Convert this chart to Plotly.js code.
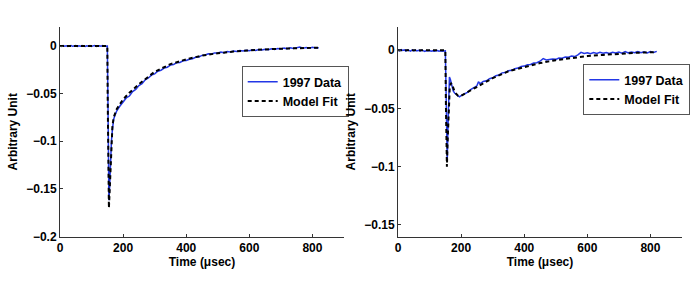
<!DOCTYPE html>
<html>
<head>
<meta charset="utf-8">
<script src="https://cdn.plot.ly/plotly-3.0.1.min.js"></script>
<style>html,body{margin:0;padding:0;background:#fff;}#plot{width:694px;height:286px;}</style>
</head>
<body>
<div id="plot"></div>
<script>
// Left panel: measured data
const leftDataT = [0,5,10,15,20,25,30,35,40,45,50,55,60,65,70,75,80,85,90,95,100,105,110,115,120,125,130,135,140,145,150,152,154,155,157,160,163,166,170,175,180,190,200,210,220,230,240,250,260,270,280,290,300,310,320,330,340,350,360,370,380,390,400,410,420,430,440,450,460,470,480,490,500,510,520,530,540,550,560,570,580,590,600,610,620,630,640,650,660,670,680,690,700,710,720,730,740,750,760,770,780,790,800,810,820];
const leftDataY = [0.0004,-0.0003,0.0005,-0.0001,0.0003,-0.0004,0.0002,0.0006,-0.0003,0.0001,0.0004,-0.0005,0.0002,-0.0002,0.0005,0.0,-0.0004,0.0003,-0.0001,0.0004,-0.0003,0.0002,0.0005,-0.0004,0.0001,0.0003,-0.0002,0.0004,-0.0001,0.0002,0.0,-0.06,-0.14,-0.162,-0.15,-0.12,-0.1,-0.088,-0.077,-0.072,-0.068,-0.063,-0.059,-0.0545,-0.0525,-0.0478,-0.0455,-0.0415,-0.0395,-0.0355,-0.0335,-0.0305,-0.0292,-0.0265,-0.0254,-0.0232,-0.0222,-0.0200,-0.0193,-0.0175,-0.0172,-0.0155,-0.0152,-0.0138,-0.0133,-0.0118,-0.0114,-0.0098,-0.0094,-0.0082,-0.0084,-0.0072,-0.0074,-0.0064,-0.0069,-0.0058,-0.0063,-0.0052,-0.0058,-0.0047,-0.0053,-0.0044,-0.0049,-0.0040,-0.0046,-0.0036,-0.0042,-0.0033,-0.0038,-0.0029,-0.0035,-0.0027,-0.0031,-0.0022,-0.0028,-0.0019,-0.0025,-0.0014,-0.0010,-0.0022,-0.0015,-0.0024,-0.0014,-0.0021,-0.0018];
// Left panel: model fit
const leftModelT = [0,150,151,153,155,157,160,163,166,170,180,200,220,250,280,300,350,400,450,500,550,600,650,700,750,800,820];
const leftModelY = [0,0,-0.05,-0.13,-0.17,-0.155,-0.125,-0.1,-0.085,-0.075,-0.066,-0.056,-0.049,-0.04,-0.032,-0.027,-0.019,-0.014,-0.01,-0.0075,-0.0058,-0.0045,-0.0035,-0.0028,-0.0022,-0.0018,-0.0017];
// Right panel: measured data
const rightDataT = [0,5,10,15,20,25,30,35,40,45,50,55,60,65,70,75,80,85,90,95,100,105,110,115,120,125,130,135,140,145,150,152,154,156,158,160,163,166,170,175,180,190,195,200,210,220,230,240,250,255,260,270,280,290,300,310,320,330,340,350,360,370,380,390,400,410,420,430,440,450,460,470,480,490,500,510,520,530,540,550,560,570,580,590,600,610,620,630,640,650,660,670,680,690,700,710,720,730,740,750,760,770,780,790,800,810,820];
const rightDataY = [0.0005,-0.0004,0.0006,-0.0002,0.0003,-0.0006,0.0004,-0.0001,-0.0007,0.0003,-0.0005,0.0002,-0.0006,-0.0001,-0.0008,0.0001,-0.0004,-0.0009,-0.0002,-0.0006,-0.0003,-0.0008,-0.0004,-0.0009,-0.0005,-0.0002,-0.0008,-0.0004,-0.0009,-0.0006,-0.0005,-0.03,-0.07,-0.095,-0.07,-0.045,-0.023,-0.025,-0.03,-0.035,-0.037,-0.039,-0.04,-0.039,-0.0375,-0.0362,-0.0338,-0.0322,-0.0305,-0.027,-0.0288,-0.0268,-0.0262,-0.0244,-0.0236,-0.0218,-0.0212,-0.0194,-0.0192,-0.0176,-0.0172,-0.0158,-0.0153,-0.0140,-0.0136,-0.0124,-0.0122,-0.0110,-0.0107,-0.0094,-0.0072,-0.0084,-0.0080,-0.0074,-0.0078,-0.0066,-0.0068,-0.0058,-0.0060,-0.0050,-0.0054,-0.0040,-0.0018,-0.0028,-0.0022,-0.0030,-0.0020,-0.0027,-0.0018,-0.0026,-0.0019,-0.0027,-0.0017,-0.0024,-0.0016,-0.0025,-0.0012,-0.0022,-0.0014,-0.0021,-0.0010,-0.0020,-0.0013,-0.0022,-0.0011,-0.0019,-0.0009];
// Right panel: model fit
const rightModelT = [0,150,152,155,157,160,164,168,172,180,190,200,220,250,300,350,400,450,500,550,600,650,700,750,800,820];
const rightModelY = [0,0,-0.05,-0.1,-0.08,-0.05,-0.032,-0.028,-0.03,-0.036,-0.039,-0.039,-0.036,-0.031,-0.024,-0.018,-0.0145,-0.011,-0.0085,-0.0065,-0.005,-0.004,-0.003,-0.0022,-0.0017,-0.0015];

const seriesNames = ['1997 Data', 'Model Fit'];
const xTitle = 'Time (\u03bcsec)';
const yTitle = 'Arbitrary Unit';

const blue = 'rgb(35,55,230)';
const font = {family: 'Liberation Sans, Arial, sans-serif', size: 12, color: '#000', weight: 'bold'};
const legFont = {family: 'Liberation Sans, Arial, sans-serif', size: 12.5, color: '#000', weight: 'bold'};

const traces = [
  {x: leftDataT, y: leftDataY, type: 'scatter', mode: 'lines', name: seriesNames[0], line: {color: blue, width: 1.5}, xaxis: 'x', yaxis: 'y', legend: 'legend'},
  {x: leftModelT, y: leftModelY, type: 'scatter', mode: 'lines', name: seriesNames[1], line: {color: '#000', width: 2, dash: '4px,3px'}, xaxis: 'x', yaxis: 'y', legend: 'legend'},
  {x: rightDataT, y: rightDataY, type: 'scatter', mode: 'lines', name: seriesNames[0], line: {color: blue, width: 1.5}, xaxis: 'x2', yaxis: 'y2', legend: 'legend2'},
  {x: rightModelT, y: rightModelY, type: 'scatter', mode: 'lines', name: seriesNames[1], line: {color: '#000', width: 2, dash: '4px,3px'}, xaxis: 'x2', yaxis: 'y2', legend: 'legend2'}
];

function xax(domain, anchor) {
  return {domain: domain, anchor: anchor, range: [0, 900], dtick: 200, tick0: 0,
    showline: true, linecolor: '#333', linewidth: 1, mirror: false,
    ticks: 'inside', ticklen: 3, tickcolor: '#333', showgrid: false, zeroline: false,
    tickfont: font, title: {text: xTitle, font: font, standoff: 2}, automargin: false};
}
function yax(domain, anchor, range) {
  return {domain: domain, anchor: anchor, range: range, dtick: 0.05, tick0: 0,
    showline: true, linecolor: '#333', linewidth: 1, mirror: false,
    ticks: 'inside', ticklen: 3, tickcolor: '#333', showgrid: false, zeroline: false,
    tickfont: font, title: {text: yTitle, font: font, standoff: 6}, automargin: false};
}

const yDom = [1 - 236.5/286, 1 - 27/286];
const layout = {
  width: 694, height: 286,
  margin: {l: 0, r: 0, t: 0, b: 0},
  paper_bgcolor: '#fff', plot_bgcolor: '#fff',
  font: font,
  showlegend: true,
  xaxis: xax([60/694, 344/694], 'y'),
  yaxis: yax(yDom, 'x', [-0.2, 0.02]),
  xaxis2: xax([398/694, 682/694], 'y2'),
  yaxis2: yax(yDom, 'x2', [-0.16, 0.02]),
  legend: {x: 241.7/694, y: 1 - 66/286, xanchor: 'left', yanchor: 'top', bgcolor: '#fff', bordercolor: '#555', borderwidth: 1, font: legFont, itemwidth: 30, tracegroupgap: 0},
  legend2: {x: 583.3/694, y: 1 - 64/286, xanchor: 'left', yanchor: 'top', bgcolor: '#fff', bordercolor: '#555', borderwidth: 1, font: legFont, itemwidth: 30, tracegroupgap: 0}
};

Plotly.newPlot('plot', traces, layout, {staticPlot: true, displayModeBar: false});
</script>
</body>
</html>
